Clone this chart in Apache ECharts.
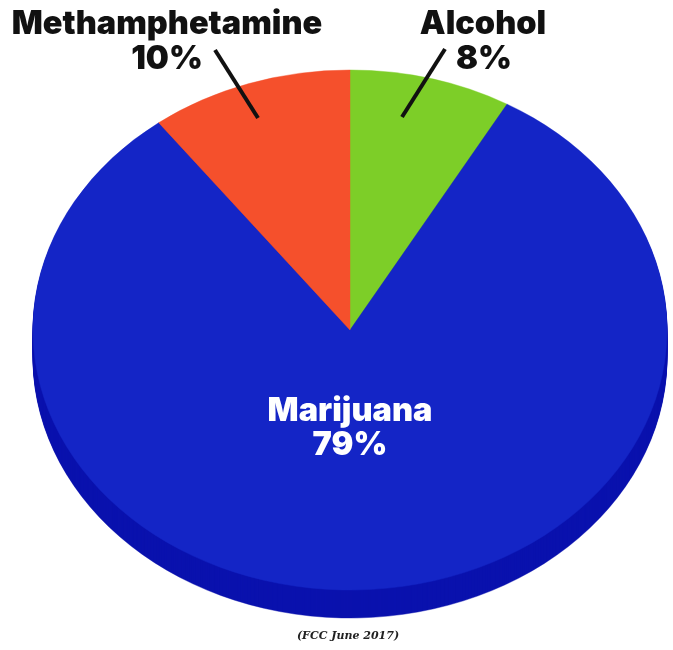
<!DOCTYPE html>
<html><head><meta charset="utf-8">
<script src="https://cdn.jsdelivr.net/npm/echarts@6/dist/echarts.min.js"></script>
<style>html,body{margin:0;padding:0;background:#fff}#c{width:673px;height:650px}</style>
</head><body><div id="c"></div>
<script>
const categories = ['Alcohol', 'Marijuana', 'Methamphetamine'];
const values = [8, 79, 10];
const percentLabels = ['8%', '79%', '10%'];
const sourceNote = '(FCC June 2017)';

const topColors = ['#7dce28', '#1425c6', '#f5502c'];
const sideColors = ['#5a9a18', '#0a12ae', '#c03a1c'];

const CX = 350, CY = 330, RX = 317, RY = 260, DEPTH = 28;
const total = values.reduce((a, b) => a + b, 0);
const cum = []; let acc = 0; values.forEach(v => { cum.push(acc); acc += v; });

function sector(i, offsetY, color) {
  const a0 = -Math.PI / 2 + 2 * Math.PI * cum[i] / total;
  const a1 = a0 + 2 * Math.PI * values[i] / total;
  return {
    type: 'sector', x: CX, y: CY + offsetY, scaleX: 1, scaleY: RY / RX,
    shape: { cx: 0, cy: 0, r: RX, r0: 0, startAngle: a0, endAngle: a1, clockwise: true },
    style: { fill: color, stroke: color, lineWidth: 0.5 }, silent: true
  };
}

const data = values.map((v, i) => ({ name: categories[i], value: [i, v] }));

const FONT = 'Inter, "Open Sans", sans-serif';
function label(text, x, y, color) {
  return { type: 'text', x: x, y: y, z: 100, silent: true,
    style: { text: text, fill: color, font: '900 32.5px ' + FONT, textAlign: 'center', textVerticalAlign: 'middle' } };
}

const chart = echarts.init(document.getElementById('c'), null, { renderer: 'canvas' });
chart.setOption({
  backgroundColor: '#ffffff',
  animation: false,
  series: [
    {
      type: 'custom', coordinateSystem: 'none', z: 1, data: data,
      renderItem: function (params, api) {
        const i = params.dataIndex;
        const children = [];
        for (let d = DEPTH; d >= 1; d--) children.push(sector(i, d, sideColors[i]));
        return { type: 'group', children: children };
      }
    },
    {
      type: 'custom', coordinateSystem: 'none', z: 2, data: data,
      renderItem: function (params, api) {
        const i = params.dataIndex;
        return sector(i, 0, topColors[i]);
      }
    }
  ],
  graphic: [
    label(categories[2], 167, 24, '#111111'),
    label(percentLabels[2], 167, 59, '#111111'),
    label(categories[0], 483, 24, '#111111'),
    label(percentLabels[0], 484, 59, '#111111'),
    label(categories[1], 350, 411, '#ffffff'),
    label(percentLabels[1], 350, 445, '#ffffff'),
    { type: 'line', z: 100, silent: true, shape: { x1: 215, y1: 50, x2: 258, y2: 118 }, style: { stroke: '#111111', lineWidth: 4 } },
    { type: 'line', z: 100, silent: true, shape: { x1: 445, y1: 49, x2: 402, y2: 117 }, style: { stroke: '#111111', lineWidth: 4 } },
    { type: 'text', x: 348, y: 636, z: 100, silent: true,
      style: { text: sourceNote, fill: '#222222', font: 'italic bold 11px "DejaVu Serif", serif', textAlign: 'center', textVerticalAlign: 'middle' } }
  ]
});
</script></body></html>
